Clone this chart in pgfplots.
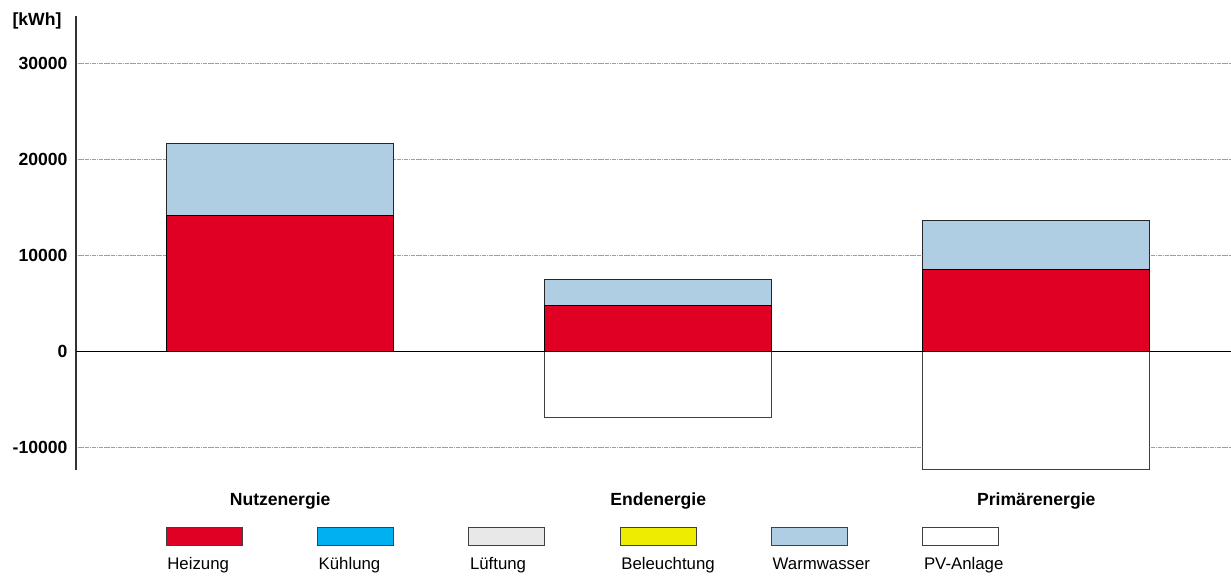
\documentclass[border=0pt]{standalone}
\usepackage{pgfplots}
\pgfplotsset{compat=1.18}
\usepackage{pgfplotstable}
\usepackage{fontspec}
\setmainfont{Liberation Sans}

\definecolor{heiz}{RGB}{224,0,36}
\definecolor{kuehl}{RGB}{0,176,240}
\definecolor{lueft}{RGB}{232,232,232}
\definecolor{bel}{RGB}{238,236,0}
\definecolor{ww}{RGB}{175,206,227}

% H = Heizung, WW = Warmwasser, PV = PV-Anlage [kWh]
\pgfplotstableread{
x H WW PV
0 14200 7550 nan
1 4800 2760 -6890
2 8560 5080 -12290
}\energy

\begin{document}
\begin{tikzpicture}
\pgfplotsset{mybar/.style={ybar, bar width=170.25pt, bar shift=0pt, line width=0.75pt}}
\begin{axis}[
  at={(57pt,-352.5pt)}, anchor=south west,
  scale only axis, width=866.25pt, height=340.5pt,
  xmin=-0.54, xmax=2.515, ymin=-12350, ymax=35000,
  axis lines*=left,
  x axis line style={draw=none},
  y axis line style={black!80, line width=1.5pt},
  xtick={0,1,2}, xticklabels={Nutzenergie,Endenergie,Primärenergie},
  ytick={-10000,0,10000,20000,30000},
  yticklabels={-10000,0,10000,20000,30000},
  scaled y ticks=false,
  major tick length=0pt,
  ymajorgrids, grid style={gray!75, line width=0.75pt, dash pattern=on 1pt off 0.3pt},
  ticklabel style={font=\fontsize{13.2}{15}\selectfont\bfseries, inner sep=0pt},
  xticklabel style={anchor=base, yshift=-26.8pt},
  yticklabel style={anchor=east, xshift=-6.2pt},
  clip=false,
]
% Warmwasser sits on Heizung: drawn to the stack top, Heizung drawn over it
\addplot[mybar, fill=ww, draw=black!85] table[x=x, y expr=\thisrow{H}+\thisrow{WW}] {\energy};
\addplot[mybar, fill=heiz, draw=black, line width=1pt] table[x=x, y=H] {\energy};
\addplot[mybar, fill=white, draw=black!75] table[x=x, y=PV] {\energy};
\draw[black, line width=1.1pt] (axis cs:-0.54,0) -- (axis cs:2.515,0);
\end{axis}

\node[anchor=base west, inner sep=0pt, font=\fontsize{13.2}{15}\selectfont\bfseries] at (9.2pt,-18.75pt) {[kWh]};

\foreach \c/\t [count=\i from 0] in {heiz/Heizung, kuehl/Kühlung, lueft/Lüftung, bel/Beleuchtung, ww/Warmwasser, white/PV-Anlage} {
  \draw[draw=black!75, line width=0.75pt, fill=\c] ({124.5pt+113.5pt*\i}, -395.5pt) rectangle ++(57pt,-13.8pt);
  \node[anchor=base west, inner sep=0pt, font=\fontsize{12.6}{14}\selectfont] at ({125.3pt+113.5pt*\i}, -426.75pt) {\t};
}

\pgfresetboundingbox
\path[use as bounding box] (0,0) rectangle (923.25pt,-433.5pt);
\end{tikzpicture}
\end{document}
